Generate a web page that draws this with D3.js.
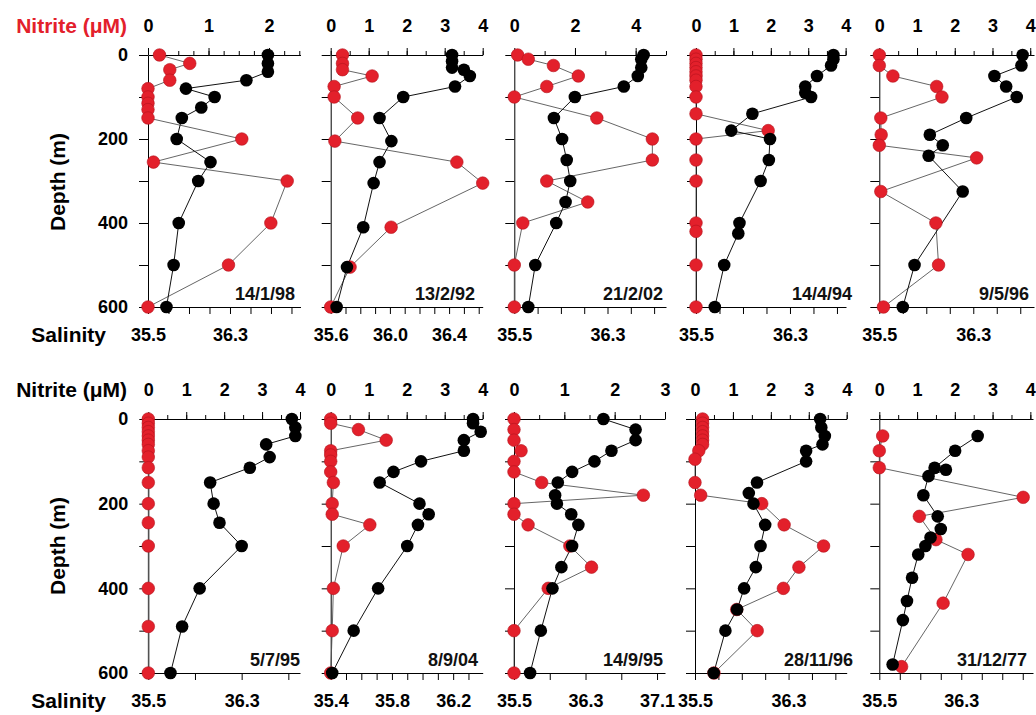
<!DOCTYPE html>
<html><head><meta charset="utf-8">
<script src="https://cdn.jsdelivr.net/npm/d3@7"></script>
<style>
body{margin:0;background:#fff}
svg{display:block}
text{font-family:"Liberation Sans",Arial,Helvetica,sans-serif;font-weight:bold}
</style>
</head><body><svg id="c" width="1036" height="715"></svg>
<script>
// ---------- DATA ----------
const dates = ["14/1/98","13/2/92","21/2/02","14/4/94","9/5/96","5/7/95","8/9/04","14/9/95","28/11/96","31/12/77"];
const nitriteMax = [2.52,4,5,4.01,4.1,4,4,3,4,4.07];
const nitriteTickStep = [0.25,0.5,1,0.5,0.5,0.5,0.5,0.5,0.5,0.5];
const nitriteTickLabels = [[0,1,2],[0,1,2,3,4],[0,2,4],[0,1,2,3,4],[0,1,2,3,4],[0,1,2,3,4],[0,1,2,3,4],[0,1,2,3],[0,1,2,3,4],[0,1,2,3,4]];
const salinityMin = [35.5,35.6,35.5,35.5,35.5,35.5,35.4,35.5,35.5,35.5];
const salinityMax = [36.988,36.627,36.802,36.777,36.817,36.8,36.393,37.189,36.797,37.0];
const salinityTickStep = [0.2,0.1,0.2,0.2,0.2,0.4,0.1,0.4,0.2,0.2];
const salinityTickLabels = [[35.5,36.3],[35.6,36.0,36.4],[35.5,36.3],[35.5,36.3],[35.5,36.3],[35.5,36.3],[35.4,35.8,36.2],[35.5,36.3,37.1],[35.5,36.3],[35.5,36.3]];
const depthTicks = [0,100,200,300,400,500,600];
const depthTickLabels = [0,200,400,600];

const salDepth1 = [0,20,40,60,80,100,125,150,200,255,300,400,500,600];
const salinity1 = [36.67,36.67,36.67,36.46,35.87,36.15,36.02,35.83,35.78,36.11,35.99,35.80,35.75,35.68];
const nitDepth1 = [0,20,35,60,80,100,115,130,150,200,255,300,400,500,600];
const nitrite1  = [0.19,0.69,0.36,0.36,0,0,0,0,0,1.55,0.09,2.30,2.03,1.33,0];

const salDepth2 = [0,15,30,35,50,75,100,150,205,255,305,410,505,600];
const salinity2 = [36.42,36.42,36.42,36.50,36.54,36.44,36.09,35.93,36.01,35.93,35.89,35.82,35.71,35.64];
const nitDepth2 = [0,20,35,50,75,100,150,205,255,305,410,505,600];
const nitrite2  = [0.31,0.31,0.31,1.09,0.09,0.09,0.71,0.11,3.32,4.0,1.59,0.51,0];

const salDepth3 = [0,10,30,50,75,100,150,200,250,300,350,400,500,600];
const salinity3 = [36.61,36.59,36.59,36.56,36.44,36.02,35.84,35.91,35.95,35.98,35.94,35.86,35.68,35.62];
const nitDepth3 = [0,10,25,50,75,100,150,200,250,300,350,400,500,600];
const nitrite3  = [0.11,0.46,1.29,2.11,1.07,0,2.72,4.55,4.55,1.07,2.42,0.28,0,0];

const salDepth4 = [0,10,25,50,75,90,100,140,180,200,250,300,400,425,500,600];
const salinity4 = [36.67,36.67,36.65,36.53,36.43,36.43,36.48,35.98,35.80,36.13,36.12,36.05,35.87,35.86,35.74,35.66];
const nitDepth4 = [0,10,20,30,40,50,60,75,100,140,180,200,250,300,400,420,500,600];
const nitrite4  = [0,0,0,0,0,0,0,0,0,0,1.93,0,0,0,0,0,0,0];

const salDepth5 = [0,25,50,75,100,150,190,215,240,325,500,600];
const salinity5 = [36.72,36.71,36.48,36.58,36.67,36.24,35.93,36.04,35.92,36.21,35.80,35.70];
const nitDepth5 = [0,25,50,75,100,150,190,215,245,325,400,500,600];
const nitrite5  = [0,0,0.36,1.52,1.66,0.04,0.05,0,2.58,0.04,1.50,1.57,0.11];

const salDepth6 = [0,20,40,60,90,115,150,200,245,300,400,490,600];
const salinity6 = [36.73,36.76,36.76,36.51,36.54,36.37,36.03,36.06,36.11,36.30,35.94,35.79,35.69];
const nitDepth6 = [0,10,20,30,40,50,60,75,90,115,150,200,245,300,400,490,600];
const nitrite6  = [0,0,0,0,0,0,0,0,0,0,0,0,0,0,0,0,0];

const salDepth7 = [0,10,30,50,75,100,125,150,200,225,250,300,400,500,600];
const salinity7 = [36.33,36.33,36.38,36.27,36.27,35.99,35.81,35.72,35.98,36.04,35.97,35.90,35.71,35.55,35.41];
const nitDepth7 = [0,10,25,50,75,85,100,125,150,200,225,250,300,400,500,600];
const nitrite7  = [0,0,0.73,1.46,0,0,0,0,0.07,0.04,0.04,1.03,0.33,0.07,0.04,0];

const salDepth8 = [0,25,50,75,100,125,150,180,200,225,250,300,350,400,500,600];
const salinity8 = [36.50,36.86,36.86,36.59,36.40,36.15,35.99,35.96,35.98,36.14,36.22,36.15,36.03,35.93,35.80,35.68];
const nitDepth8 = [0,25,50,75,100,125,150,180,200,225,250,300,350,400,500,600];
const nitrite8  = [0,0,0,0.14,0,0,0.55,2.57,0,0,0.28,1.11,1.54,0.68,0,0];

const salDepth9 = [0,20,40,60,75,100,150,175,200,250,300,350,400,450,500,600];
const salinity9 = [36.57,36.58,36.61,36.59,36.45,36.45,36.03,35.96,36.00,36.10,36.06,36.02,35.92,35.86,35.76,35.66];
const nitDepth9 = [0,10,20,30,40,50,60,75,95,150,180,200,250,300,350,400,450,500,600];
const nitrite9  = [0.2,0.2,0.2,0.2,0.2,0.2,0.2,0.1,0,0,0.15,1.76,2.35,3.39,2.74,2.33,1.10,1.64,0.5];

const salDepth10 = [40,75,115,120,135,180,230,260,280,300,320,375,430,475,580];
const salinity10 = [36.46,36.24,36.04,36.15,35.98,35.93,36.07,36.10,36.00,35.95,35.88,35.82,35.77,35.73,35.63];
const nitDepth10 = [40,75,115,185,230,285,320,435,585];
const nitrite10  = [0.09,0,0,3.81,1.06,1.50,2.35,1.69,0.59];

const salDepths = [salDepth1,salDepth2,salDepth3,salDepth4,salDepth5,salDepth6,salDepth7,salDepth8,salDepth9,salDepth10];
const salinities = [salinity1,salinity2,salinity3,salinity4,salinity5,salinity6,salinity7,salinity8,salinity9,salinity10];
const nitDepths = [nitDepth1,nitDepth2,nitDepth3,nitDepth4,nitDepth5,nitDepth6,nitDepth7,nitDepth8,nitDepth9,nitDepth10];
const nitrites = [nitrite1,nitrite2,nitrite3,nitrite4,nitrite5,nitrite6,nitrite7,nitrite8,nitrite9,nitrite10];

// ---------- LAYOUT ----------
const colLeft  = [[148,330.7,514.3,696,879.3],[148.3,330.7,514,695,879.3]];
const colRight = [[300.5,482.7,666,846,1034],[300,482.7,665,846.7,1033]];
const rowTop = [55,419], rowBottom = [307,673];
const dateRight = [[295,475,663,852,1029],[300,478,663,853,1027]];
const RED = "#e3202b", RED_EDGE = "#b3121c";

const svg = d3.select("#c");
svg.append("rect").attr("width",1036).attr("height",715).attr("fill","#fff");

function styleAxis(sel){
  sel.selectAll("path,line").attr("stroke","#000").attr("stroke-width",1);
  sel.selectAll("text").attr("fill","#000").style("font-size","18px")
     .style("font-family","'Liberation Sans',Arial,sans-serif").style("font-weight","bold");
}

for (let i=0;i<10;i++){
  const row = Math.floor(i/5), col = i%5;
  const x0 = colLeft[row][col], x1 = colRight[row][col];
  const yT = rowTop[row], yB = rowBottom[row];
  const y = d3.scaleLinear().domain([0,600]).range([yT,yB]);
  const xn = d3.scaleLinear().domain([0,nitriteMax[i]]).range([x0,x1]);
  const xs = d3.scaleLinear().domain([salinityMin[i],salinityMax[i]]).range([x0,x1]);
  const g = svg.append("g");

  // top (nitrite) axis: minor ticks + domain
  const nTicks = d3.range(0, nitriteMax[i]+1e-6, nitriteTickStep[i]);
  g.append("g").attr("transform",`translate(0,${yT})`)
    .call(d3.axisTop(xn).tickValues(nTicks).tickSizeInner(4).tickSizeOuter(0).tickFormat(""))
    .call(styleAxis);
  // major ticks with labels
  g.append("g").attr("transform",`translate(0,${yT})`)
    .call(d3.axisTop(xn).tickValues(nitriteTickLabels[i]).tickSize(7).tickPadding(16).tickFormat(d3.format("d")))
    .call(styleAxis)
    .call(s=>s.select(".domain").remove());

  // bottom (salinity) axis
  const sTicks = d3.range(0, Math.floor((salinityMax[i]-salinityMin[i])/salinityTickStep[i]+1e-6)+1)
                   .map(k=>salinityMin[i]+k*salinityTickStep[i]);
  g.append("g").attr("transform",`translate(0,${yB})`)
    .call(d3.axisBottom(xs).tickValues(sTicks).tickSizeInner(7).tickSizeOuter(0).tickFormat(""))
    .call(styleAxis);
  g.append("g").attr("transform",`translate(0,${yB})`)
    .call(d3.axisBottom(xs).tickValues(salinityTickLabels[i]).tickSize(0).tickPadding(21).tickFormat(d3.format(".1f")))
    .call(styleAxis)
    .call(s=>s.select(".domain").remove());

  // left (depth) axis
  g.append("g").attr("transform",`translate(${x0},0)`)
    .call(d3.axisLeft(y).tickValues(depthTicks).tickSizeInner(9).tickSizeOuter(0).tickPadding(11)
          .tickFormat(d => (col===0 && depthTickLabels.includes(d)) ? d : ""))
    .call(styleAxis);

  // date label
  g.append("text").attr("x",dateRight[row][col]).attr("y",yB-7)
    .attr("text-anchor","end").style("font-size","18px").attr("fill","#111").text(dates[i]);

  // lines
  const nitPts = nitDepths[i].map((d,k)=>({d, v:nitrites[i][k]}));
  const salPts = salDepths[i].map((d,k)=>({d, v:salinities[i][k]}));
  g.append("path").datum(nitPts)
    .attr("d", d3.line().x(p=>xn(p.v)).y(p=>y(p.d)))
    .attr("fill","none").attr("stroke","#555").attr("stroke-width",0.9);
  g.append("path").datum(salPts)
    .attr("d", d3.line().x(p=>xs(p.v)).y(p=>y(p.d)))
    .attr("fill","none").attr("stroke","#111").attr("stroke-width",1);

  // dots
  g.append("g").selectAll("circle").data(nitPts).join("circle")
    .attr("cx",p=>xn(p.v)).attr("cy",p=>y(p.d)).attr("r",6.3)
    .attr("fill",RED).attr("stroke",RED_EDGE).attr("stroke-width",0.6);
  g.append("g").selectAll("circle").data(salPts).join("circle")
    .attr("cx",p=>xs(p.v)).attr("cy",p=>y(p.d)).attr("r",6.3)
    .attr("fill","#000");
}

// row titles
[0,1].forEach(row=>{
  svg.append("text").attr("x",127).attr("y",rowTop[row]-22).attr("text-anchor","end")
    .style("font-size","21px").attr("fill", row===0 ? RED : "#000").text("Nitrite (\u03BCM)");
  svg.append("text").attr("x",106).attr("y",rowBottom[row]+35).attr("text-anchor","end")
    .style("font-size","21px").attr("fill","#000").text("Salinity");
  const yc = (rowTop[row]+rowBottom[row])/2 + (row===0?1:0);
  svg.append("text").attr("transform",`translate(65,${yc}) rotate(-90)`)
    .attr("text-anchor","middle").style("font-size","21px").attr("fill","#000").text("Depth (m)");
});
</script>
</body></html>
